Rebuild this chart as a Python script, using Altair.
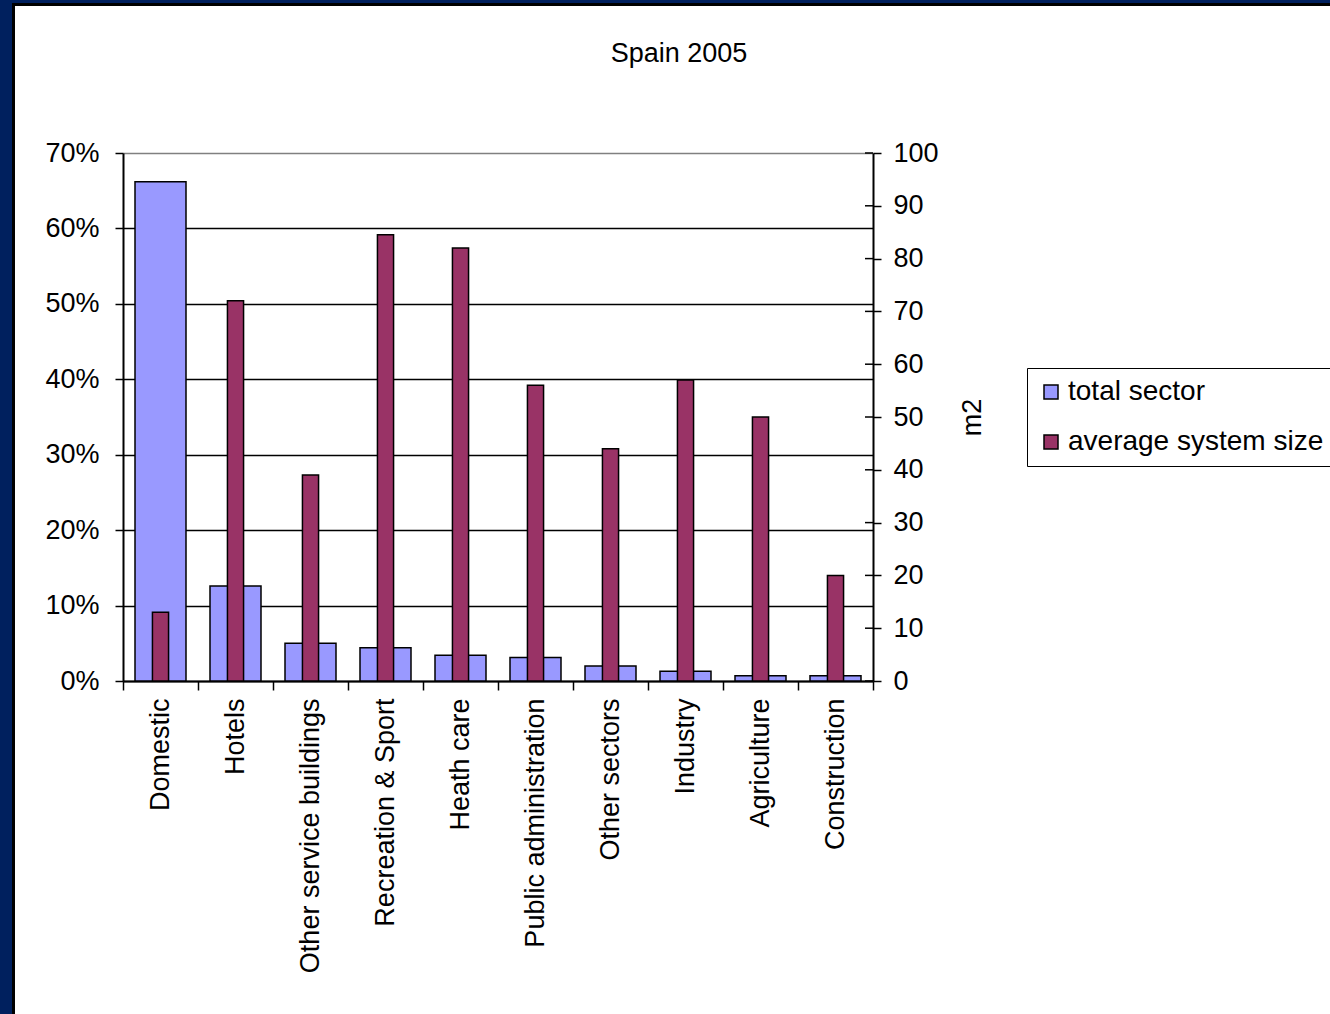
import altair as alt
import pandas as pd

# ---- data ----
categories = ["Domestic", "Hotels", "Other service buildings", "Recreation & Sport",
              "Heath care", "Public administration", "Other sectors", "Industry",
              "Agriculture", "Construction"]
total_sector = [0.662, 0.126, 0.050, 0.044, 0.034, 0.031, 0.020, 0.013, 0.007, 0.007]
avg_system_size = [13, 72, 39, 84.5, 82, 56, 44, 57, 50, 20]
series_names = ["total sector", "average system size"]
pct_ticks = [0, 0.1, 0.2, 0.3, 0.4, 0.5, 0.6, 0.7]
m2_ticks = [0, 10, 20, 30, 40, 50, 60, 70, 80, 90, 100]

# ---- style ----
series_colors = ["#9999FF", "#993366"]
FONT = "Liberation Sans"
FS = 27
W, H = 750, 528
PAD_L, PAD_T = 123, 153
TOTAL_W, TOTAL_H = 1330, 1014
NAVY = "#00205E"

df_total = pd.DataFrame({"category": categories, "value": total_sector,
                         "series": series_names[0]})
df_avg = pd.DataFrame({"category": categories, "value": avg_system_size,
                       "series": series_names[1]})
df_ticks = pd.DataFrame({"value": m2_ticks})

x_enc = alt.X(
    "category:N", sort=categories,
    scale=alt.Scale(paddingInner=0, paddingOuter=0),
    axis=alt.Axis(title=None, labelAngle=270, labelFontSize=FS, labelFont=FONT,
                  labelColor="black", labelPadding=8, labelLimit=500,
                  tickBand="extent", tickSize=9, tickColor="black", tickWidth=1.5,
                  domainColor="black", domainWidth=2),
)

color_enc = alt.Color(
    "series:N",
    scale=alt.Scale(domain=series_names, range=series_colors),
    legend=alt.Legend(orient="none", legendX=904, legendY=215, title=None,
                      strokeColor="black", fillColor="white", padding=10,
                      symbolType="square", symbolSize=196, symbolStrokeColor="black",
                      symbolStrokeWidth=1.5, labelFontSize=28, labelFont=FONT,
                      labelColor="black", labelOffset=3, rowPadding=22,
                      labelLimit=400),
)

left_axis = alt.Axis(orient="left", values=pct_ticks, format=".0%", title=None,
                     labelFontSize=FS, labelFont=FONT, labelColor="black",
                     labelPadding=16, tickSize=8, tickColor="black", tickWidth=1.5,
                     domainColor="black", domainWidth=2, grid=True,
                     gridColor={"condition": {"test": "datum.value > 0.65", "value": "#808080"},
                                "value": "black"},
                     gridWidth=1.5)

right_scale = alt.Scale(domain=[0, 100], nice=False, zero=True)
right_axis = alt.Axis(orient="right", values=m2_ticks, title="m2", grid=False,
                      labelFontSize=FS, labelFont=FONT, labelColor="black",
                      labelPadding=12, tickSize=8, tickColor="black", tickWidth=1.5,
                      domainColor="black", domainWidth=2,
                      titleFontSize=FS, titleFont=FONT, titleFontWeight="normal",
                      titleColor="black", titleAngle=270, titleX=99, titleY=H / 2,
                      titleAlign="center", titleBaseline="middle")

blue = alt.Chart(df_total).mark_bar(
    stroke="black", strokeWidth=1.5, width=alt.RelativeBandSize(0.68)
).encode(
    x=x_enc,
    y=alt.Y("value:Q", scale=alt.Scale(domain=[0, 0.7], nice=False, zero=True), axis=left_axis),
    color=color_enc,
)

maroon = alt.Chart(df_avg).mark_bar(
    stroke="black", strokeWidth=1.5, width=alt.RelativeBandSize(0.215)
).encode(
    x=x_enc,
    y=alt.Y("value:Q", scale=right_scale, axis=right_axis),
    color=color_enc,
)

cross_ticks = alt.Chart(df_ticks).mark_rule(color="black", strokeWidth=1.5).encode(
    x=alt.value(W - 8), x2=alt.value(W),
    y=alt.Y("value:Q", scale=right_scale, axis=right_axis),
)


def strip(x0, x1, y0, y1, color):
    return alt.Chart(pd.DataFrame({"d": [0]})).mark_rect(color=color).encode(
        x=alt.value(x0 - PAD_L), x2=alt.value(x1 - PAD_L),
        y=alt.value(y0 - PAD_T), y2=alt.value(y1 - PAD_T),
    )


frame = [
    strip(0, 12, 0, TOTAL_H, NAVY),
    strip(0, TOTAL_W, 0, 3, NAVY),
    strip(12, 15, 3, TOTAL_H, "black"),
    strip(12, TOTAL_W, 3, 6, "black"),
]

chart = alt.layer(
    *frame, blue, alt.layer(maroon, cross_ticks)
).resolve_scale(
    y="independent"
).properties(
    width=W, height=H,
    padding={"left": PAD_L, "top": PAD_T, "right": TOTAL_W - PAD_L - W,
             "bottom": TOTAL_H - PAD_T - H},
    autosize=alt.AutoSizeParams(type="none"),
    background="white",
    title=alt.TitleParams("Spain 2005", fontSize=FS, fontWeight="normal", font=FONT,
                          color="black", anchor="middle", frame="group", dx=181,
                          offset=0, dy=68),
).configure(font=FONT).configure_view(stroke=None)

chart.save("out.html", embed_options={"renderer": "svg", "actions": False})
